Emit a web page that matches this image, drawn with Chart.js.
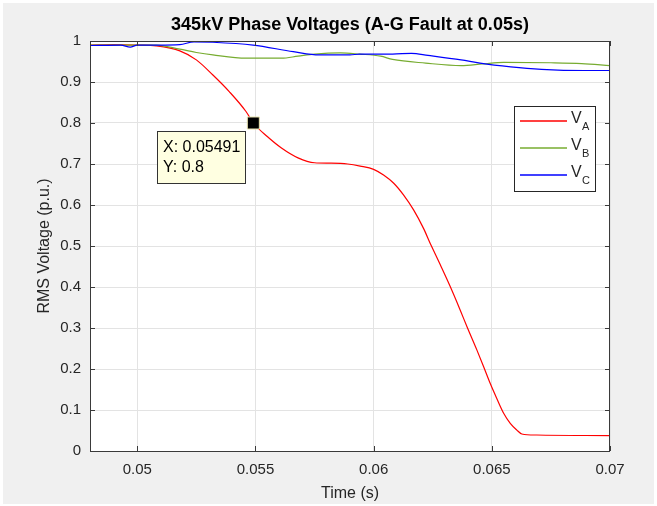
<!DOCTYPE html>
<html>
<head>
<meta charset="utf-8">
<script src="https://cdn.jsdelivr.net/npm/chart.js@4/dist/chart.umd.min.js"></script>
<style>
  html, body { margin: 0; padding: 0; background: #fff; }
</style>
</head>
<body>
<canvas id="volt-chart" width="657" height="506"></canvas>
<script>
const titleText = '345kV Phase Voltages (A-G Fault at 0.05s)';
const xLabel = 'Time (s)';
const yLabel = 'RMS Voltage (p.u.)';
const xTicks = [0.05, 0.055, 0.06, 0.065, 0.07];
const yTicks = [0, 0.1, 0.2, 0.3, 0.4, 0.5, 0.6, 0.7, 0.8, 0.9, 1];

const phaseNames = ['A', 'B', 'C'];
const phaseColors = ['#ff0000', '#77ac30', '#0000ff'];

const timeA = [0.048, 0.049, 0.05, 0.0508, 0.0518, 0.0525, 0.0532, 0.0539, 0.0546, 0.05491, 0.0555, 0.0561, 0.0568, 0.0575, 0.0582, 0.0589, 0.05943, 0.06, 0.06042, 0.06085, 0.06127, 0.06169, 0.06211, 0.06239, 0.06282, 0.06324, 0.06366, 0.06395, 0.06437, 0.06465, 0.06493, 0.06521, 0.0655, 0.06578, 0.06606, 0.06627, 0.0669, 0.07];
const voltA = [0.99, 0.991, 0.99, 0.988, 0.976, 0.954, 0.917, 0.876, 0.828, 0.8, 0.767, 0.739, 0.715, 0.703, 0.702, 0.7, 0.695, 0.687, 0.673, 0.653, 0.624, 0.588, 0.543, 0.507, 0.454, 0.401, 0.344, 0.303, 0.246, 0.206, 0.165, 0.128, 0.092, 0.0675, 0.051, 0.0415, 0.039, 0.0375];

const timeB = [0.048, 0.05, 0.0508, 0.0518, 0.0525, 0.0532, 0.0546, 0.0561, 0.0568, 0.0575, 0.0586, 0.0594, 0.0603, 0.0608, 0.0622, 0.0637, 0.0646, 0.0655, 0.0675, 0.0688, 0.07];
const voltB = [0.99, 0.99, 0.99, 0.98, 0.972, 0.966, 0.958, 0.958, 0.963, 0.968, 0.971, 0.968, 0.963, 0.955, 0.946, 0.94, 0.944, 0.948, 0.947, 0.945, 0.94];

const timeC = [0.048, 0.0493, 0.0497, 0.05, 0.0509, 0.0518, 0.0524, 0.0532, 0.0549, 0.0566, 0.0577, 0.059, 0.0594, 0.0608, 0.0616, 0.0623, 0.0637, 0.0645, 0.0658, 0.0671, 0.0689, 0.07];
const voltC = [0.989, 0.99, 0.985, 0.99, 0.99, 0.991, 0.998, 0.997, 0.99, 0.974, 0.966, 0.966, 0.968, 0.968, 0.97, 0.965, 0.954, 0.946, 0.937, 0.931, 0.928, 0.928];

const tipX = 0.05491;
const tipY = 0.8;

const fontFamily = '"Liberation Sans", Arial, Helvetica, sans-serif';
const textColor = '#262626';
const axisColor = '#3a3a3a';

function toPoints(xs, ys) {
  return xs.map((x, i) => ({ x, y: ys[i] }));
}

// figure background, white plot area, title
const backdropPlugin = {
  id: 'backdrop',
  beforeDraw(chart) {
    const { ctx, chartArea: a, width, height } = chart;
    ctx.save();
    ctx.fillStyle = '#f0f0f0';
    ctx.fillRect(3, 3, width - 6, height - 5);
    ctx.fillStyle = '#ffffff';
    ctx.fillRect(a.left, a.top, a.right - a.left, a.bottom - a.top);
    ctx.fillStyle = '#000000';
    ctx.font = 'bold 18px ' + fontFamily;
    ctx.textAlign = 'center';
    ctx.textBaseline = 'middle';
    ctx.fillText(titleText, (a.left + a.right) / 2, 25);
    ctx.restore();
  },
};

// box, inward tick marks, legend and data tip
const overlayPlugin = {
  id: 'overlay',
  afterDraw(chart) {
    const { ctx, chartArea: a, scales } = chart;
    ctx.save();
    ctx.strokeStyle = axisColor;
    ctx.lineWidth = 1;
    ctx.strokeRect(a.left + 0.5, a.top + 0.5, a.right - a.left - 1, a.bottom - a.top);
    ctx.beginPath();
    xTicks.forEach((v) => {
      const px = Math.round(scales.x.getPixelForValue(v)) + 0.5;
      ctx.moveTo(px, a.bottom); ctx.lineTo(px, a.bottom - 5);
      ctx.moveTo(px, a.top); ctx.lineTo(px, a.top + 5);
    });
    yTicks.forEach((v) => {
      const py = Math.round(scales.y.getPixelForValue(v)) + 0.5;
      ctx.moveTo(a.left, py); ctx.lineTo(a.left + 5, py);
      ctx.moveTo(a.right, py); ctx.lineTo(a.right - 5, py);
    });
    ctx.stroke();

    // legend
    const lw = 81, lh = 85;
    const lx = a.right - 15 - lw, ly = a.top + 65;
    ctx.fillStyle = '#ffffff';
    ctx.fillRect(lx, ly, lw, lh);
    ctx.strokeStyle = '#262626';
    ctx.strokeRect(lx + 0.5, ly + 0.5, lw, lh);
    phaseNames.forEach((name, i) => {
      const rowY = ly + 15 + i * 27;
      ctx.strokeStyle = phaseColors[i];
      ctx.lineWidth = 1.3;
      ctx.beginPath();
      ctx.moveTo(lx + 6, rowY);
      ctx.lineTo(lx + 53, rowY);
      ctx.stroke();
      ctx.fillStyle = textColor;
      ctx.textAlign = 'left';
      ctx.textBaseline = 'middle';
      ctx.font = '16px ' + fontFamily;
      ctx.fillText('V', lx + 57, rowY - 2);
      ctx.font = '11px ' + fontFamily;
      ctx.fillText(name, lx + 68, rowY + 6);
    });

    // data tip
    const mx = scales.x.getPixelForValue(tipX);
    const my = scales.y.getPixelForValue(tipY);
    const bx = Math.round(mx - 96), by = Math.round(my + 8);
    ctx.lineWidth = 1;
    ctx.fillStyle = '#ffffe1';
    ctx.fillRect(bx, by, 88, 52);
    ctx.strokeStyle = '#333333';
    ctx.strokeRect(bx + 0.5, by + 0.5, 88, 52);
    ctx.fillStyle = '#000000';
    ctx.font = '16px ' + fontFamily;
    ctx.textAlign = 'left';
    ctx.textBaseline = 'middle';
    ctx.fillText('X: ' + tipX, bx + 6, by + 17);
    ctx.fillText('Y: ' + tipY, bx + 6, by + 37);
    ctx.restore();
  },
};

const ctx = document.getElementById('volt-chart');

new Chart(ctx, {
  type: 'line',
  data: {
    datasets: [
      ...phaseNames.map((name, i) => ({
        label: 'V' + name,
        data: toPoints([timeA, timeB, timeC][i], [voltA, voltB, voltC][i]),
        borderColor: phaseColors[i],
        backgroundColor: phaseColors[i],
        borderWidth: 1.2,
        pointRadius: 0,
        cubicInterpolationMode: 'monotone',
        order: 3 - i,
      })),
      {
        label: 'tip',
        data: [{ x: tipX, y: tipY }],
        showLine: false,
        pointStyle: 'rect',
        pointRadius: 8.5,
        pointBackgroundColor: '#000000',
        pointBorderColor: '#e8e3b0',
        pointBorderWidth: 1,
        order: -1,
      },
    ],
  },
  options: {
    responsive: false,
    animation: false,
    events: [],
    layout: { padding: { top: 41, right: 47, left: 0, bottom: 0 } },
    plugins: {
      legend: { display: false },
      tooltip: { enabled: false },
      title: { display: false },
    },
    scales: {
      x: {
        type: 'linear',
        min: 0.048,
        max: 0.07,
        afterBuildTicks: (scale) => { scale.ticks = xTicks.map((v) => ({ value: v })); },
        afterFit: (scale) => { scale.height = 55; },
        ticks: {
          padding: 10,
          color: textColor,
          font: { family: fontFamily, size: 15 },
          callback: (value) => String(value),
          maxRotation: 0,
        },
        grid: { color: '#e3e3e3', drawTicks: false },
        border: { display: false },
        title: {
          display: true,
          text: xLabel,
          color: textColor,
          font: { family: fontFamily, size: 16 },
          padding: { top: 0, bottom: 3 },
        },
      },
      y: {
        type: 'linear',
        min: 0,
        max: 1,
        afterBuildTicks: (scale) => { scale.ticks = yTicks.map((v) => ({ value: v })); },
        afterFit: (scale) => { scale.width = 90; },
        ticks: {
          padding: 9,
          color: textColor,
          font: { family: fontFamily, size: 15 },
          callback: (value) => String(value),
        },
        grid: { color: '#e3e3e3', drawTicks: false },
        border: { display: false },
        title: {
          display: true,
          text: yLabel,
          color: textColor,
          font: { family: fontFamily, size: 16 },
          padding: { top: 35, bottom: 0 },
        },
      },
    },
  },
  plugins: [backdropPlugin, overlayPlugin],
});
</script>
</body>
</html>
